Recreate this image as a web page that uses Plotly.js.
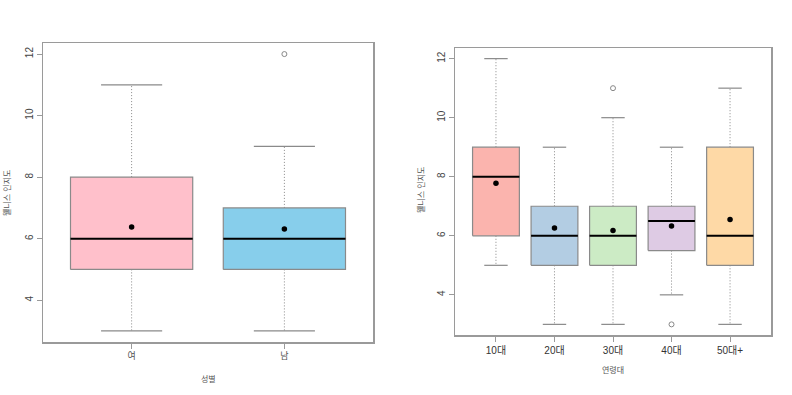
<!DOCTYPE html>
<html><head><meta charset="utf-8">
<script src="https://cdn.plot.ly/plotly-3.0.1.min.js"></script>
<style>html,body{margin:0;padding:0;background:#fff}#c{width:792px;height:395px}</style>
</head><body><div id="c"></div>
<script>
// Left: by gender
const sexCats = ['여', '남'];
const sexMin = [3, 3];
const sexQ1 = [5, 5];
const sexMed = [6, 6];
const sexQ3 = [8, 7];
const sexMax = [11, 9];
const sexMean = [6.38, 6.31];
const sexColors = ['#FFC0CB', '#87CEEB'];
const sexOutCat = ['남'];
const sexOutVal = [12];

// Right: by age group
const ageCats = ['10대', '20대', '30대', '40대', '50대+'];
const ageMin = [5, 3, 3, 4, 3];
const ageQ1 = [6, 5, 5, 5.5, 5];
const ageMed = [8, 6, 6, 6.5, 6];
const ageQ3 = [9, 7, 7, 7, 9];
const ageMax = [12, 9, 10, 9, 11];
const ageMean = [7.78, 6.26, 6.18, 6.33, 6.55];
const ageColors = ['#FBB4AE', '#B3CDE3', '#CCEBC5', '#DECBE4', '#FED9A6'];
const ageOutCat = ['30대', '40대'];
const ageOutVal = [11, 3];

const yTicks = [4, 6, 8, 10, 12];
const yTitle = '웰니스 인지도';

const FONT = 'Liberation Sans, Noto Sans CJK KR, sans-serif';
const BW = 0.4, CW = 0.2;

function makeTraces(cats, mn, q1, med, q3, mx, mean, colors, outCat, outVal, xa, ya) {
  const tr = [];
  const pos = cats.map((c, i) => i + 1);
  const wx = [], wy = [];
  pos.forEach((p, i) => { wx.push(p, p, null, p, p, null); wy.push(q3[i], mx[i], null, q1[i], mn[i], null); });
  tr.push({x: wx, y: wy, xaxis: xa, yaxis: ya, mode: 'lines', line: {color: '#888', width: 1, dash: '1px,2px'}, hoverinfo: 'skip'});
  const cx = [], cy = [];
  pos.forEach((p, i) => { cx.push(p - CW, p + CW, null, p - CW, p + CW, null); cy.push(mx[i], mx[i], null, mn[i], mn[i], null); });
  tr.push({x: cx, y: cy, xaxis: xa, yaxis: ya, mode: 'lines', line: {color: '#8a8a8a', width: 1.2}, hoverinfo: 'skip'});
  pos.forEach((p, i) => {
    tr.push({x: [p - BW, p + BW, p + BW, p - BW, p - BW], y: [q1[i], q1[i], q3[i], q3[i], q1[i]],
      xaxis: xa, yaxis: ya, mode: 'lines', fill: 'toself', fillcolor: colors[i],
      line: {color: '#8a8a8a', width: 1.2}, hoverinfo: 'skip'});
  });
  const mxs = [], mys = [];
  pos.forEach((p, i) => { mxs.push(p - BW, p + BW, null); mys.push(med[i], med[i], null); });
  tr.push({x: mxs, y: mys, xaxis: xa, yaxis: ya, mode: 'lines', line: {color: '#000', width: 2}, hoverinfo: 'skip'});
  tr.push({x: pos, y: mean, xaxis: xa, yaxis: ya, mode: 'markers', marker: {color: '#000', size: 5.5}, hoverinfo: 'skip'});
  tr.push({x: outCat.map(c => cats.indexOf(c) + 1), y: outVal, xaxis: xa, yaxis: ya, mode: 'markers',
    marker: {symbol: 'circle-open', color: '#888', size: 5, line: {width: 1}}, hoverinfo: 'skip'});
  return tr;
}

const data = [].concat(
  makeTraces(sexCats, sexMin, sexQ1, sexMed, sexQ3, sexMax, sexMean, sexColors, sexOutCat, sexOutVal, 'x', 'y'),
  makeTraces(ageCats, ageMin, ageQ1, ageMed, ageQ3, ageMax, ageMean, ageColors, ageOutCat, ageOutVal, 'x2', 'y2')
);

const axBase = {showline: true, mirror: true, linecolor: '#9a9a9a', linewidth: 1.5, showgrid: false, zeroline: false,
  ticks: 'outside', ticklen: 5, tickcolor: '#9a9a9a', tickwidth: 1, fixedrange: true};

const H = 395, W = 792;
const layout = {
  width: W, height: H, margin: {l: 0, r: 0, t: 0, b: 0}, showlegend: false,
  paper_bgcolor: '#fff', plot_bgcolor: '#fff',
  font: {family: FONT, color: '#333', size: 10},
  xaxis: Object.assign({}, axBase, {domain: [43 / W, 373 / W], range: [0.42, sexCats.length + 0.58],
    tickvals: sexCats.map((c, i) => i + 1), ticktext: sexCats, tickangle: 0, tickfont: {size: 9, color: '#555'}}),
  yaxis: Object.assign({}, axBase, {domain: [1 - 342 / H, 1 - 43 / H], range: [2.64, 12.36],
    tickvals: yTicks, tickangle: -90, tickfont: {size: 10, color: '#444'}}),
  xaxis2: Object.assign({}, axBase, {anchor: 'y2', domain: [455 / W, 771 / W], range: [0.3, ageCats.length + 0.7],
    tickvals: ageCats.map((c, i) => i + 1), ticktext: ageCats, tickfont: {size: 10, color: '#333'}}),
  yaxis2: Object.assign({}, axBase, {anchor: 'x2', domain: [1 - 335 / H, 1 - 48 / H], range: [2.64, 12.36],
    tickvals: yTicks, tickangle: -90, tickfont: {size: 10, color: '#444'}}),
  annotations: [
    {text: yTitle, xref: 'paper', yref: 'paper', x: 7 / W, y: 1 - 193 / H, textangle: -90, showarrow: false,
      font: {size: 8, color: '#555'}, xanchor: 'center', yanchor: 'middle'},
    {text: '성별', xref: 'paper', yref: 'paper', x: 208 / W, y: 1 - 379 / H, showarrow: false,
      font: {size: 8, color: '#555'}, xanchor: 'center', yanchor: 'middle'},
    {text: yTitle, xref: 'paper', yref: 'paper', x: 421 / W, y: 1 - 190 / H, textangle: -90, showarrow: false,
      font: {size: 8, color: '#555'}, xanchor: 'center', yanchor: 'middle'},
    {text: '연령대', xref: 'paper', yref: 'paper', x: 613 / W, y: 1 - 370 / H, showarrow: false,
      font: {size: 8, color: '#555'}, xanchor: 'center', yanchor: 'middle'}
  ]
};

Plotly.newPlot('c', data, layout, {staticPlot: true, displayModeBar: false});
</script>
</body></html>
